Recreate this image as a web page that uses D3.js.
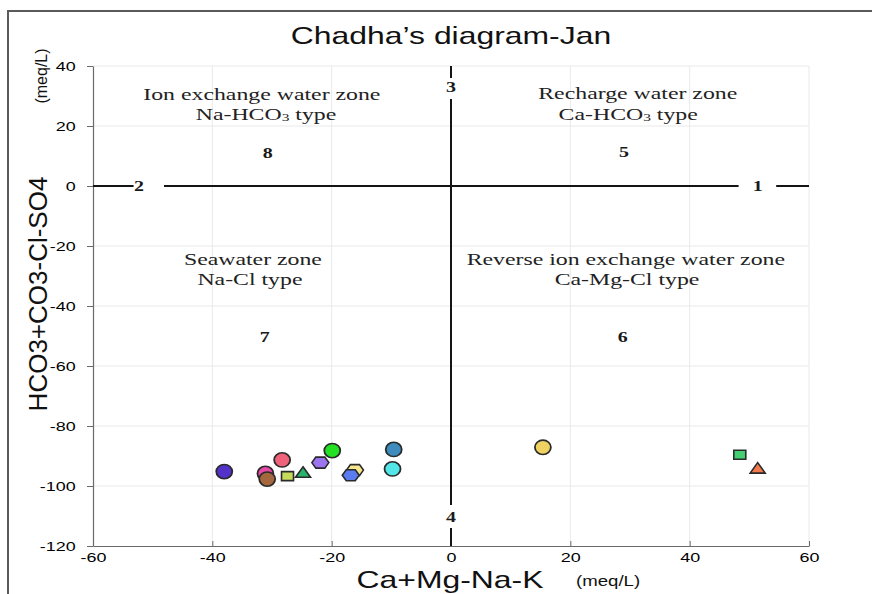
<!DOCTYPE html>
<html>
<head>
<meta charset="utf-8">
<script src="https://cdn.jsdelivr.net/npm/d3@7"></script>
<style>
body { margin:0; background:#fff; }
svg { display:block; }
</style>
</head>
<body>
<svg id="drawing_region"></svg>
<script>
// sample values (meq/L)
const xValues = [-38.0, -31.1, -30.8, -28.3, -27.4, -24.8, -21.9, -19.9, -16.1, -16.8, -9.6, -9.8, 15.4, 48.4, 51.4];
const yValues = [-95.2, -95.8, -97.7, -91.3, -96.7, -95.6, -92.2, -88.2, -94.7, -96.4, -87.8, -94.3, -87.1, -89.6, -94.2];
const shapes = ['circle','circle','circle','circle','square','triangle','hexagon','circle','hexagon','hexagon','circle','circle','circle','square','triangle'];
const colors = ['#5232c8','#e64aa6','#a5683e','#f0627a','#c6da5c','#26b36c','#9c74ee','#22e022','#f6e68e','#5a7cf0','#3d8cbd','#52e6e8','#f0d263','#44d072','#f27a4c'];

const xTicks = [-60, -40, -20, 0, 20, 40, 60];
const yTicks = [40, 20, 0, -20, -40, -60, -80, -100, -120];

const zoneTitles = ['Ion exchange water zone', 'Recharge water zone', 'Seawater zone', 'Reverse ion exchange water zone'];
const zoneTypes = [['Na-HCO', '3', ' type'], ['Ca-HCO', '3', ' type'], ['Na-Cl type'], ['Ca-Mg-Cl type']];
const fieldNumbers = ['1', '2', '3', '4', '5', '6', '7', '8'];

var config = {
    parent: '#drawing_region',
    width: 872,
    height: 594,
    margin: {top:66, right:63, bottom:48, left:93},
    stretch: 1.33
};

class ChadhaPlot {

    constructor( config ) {
        this.config = config;
        this.data = xValues.map( (x, i) => ({x: x, y: yValues[i], shape: shapes[i], color: colors[i]}) );
        this.init();
    }

    init() {
        let self = this;

        self.svg = d3.select( self.config.parent )
            .attr('width', self.config.width)
            .attr('height', self.config.height);

        self.inner_width = self.config.width - self.config.margin.left - self.config.margin.right;
        self.inner_height = self.config.height - self.config.margin.top - self.config.margin.bottom;

        self.chart = self.svg.append('g')
            .attr('transform', `translate(${self.config.margin.left}, ${self.config.margin.top})`);

        self.xscale = d3.scaleLinear()
            .domain( [-60, 60] )
            .range( [0, self.inner_width] );

        self.yscale = d3.scaleLinear()
            .domain( [-120, 40] )
            .range( [self.inner_height, 0] );
    }

    // text widened horizontally like the original bitmap
    label( parent, x, y, str, k ) {
        return parent.append('text')
            .attr('transform', `translate(${x}, ${y}) scale(${k}, 1)`)
            .text( str );
    }

    render() {
        let self = this;
        const k = self.config.stretch;
        const xs = self.xscale, ys = self.yscale;

        // outer frame
        self.svg.append('path')
            .attr('d', `M8,${self.config.height} V11 H${self.config.width}`)
            .attr('fill', 'none')
            .attr('stroke', '#5a5a5a')
            .attr('stroke-width', 2);

        // grid
        const grid = self.chart.append('g')
            .attr('stroke', '#e9e9e9')
            .attr('stroke-width', 1);
        grid.selectAll('.vg').data( xTicks.filter(d => d !== -60 && d !== 0) ).enter()
            .append('line')
            .attr('x1', d => xs(d)).attr('x2', d => xs(d))
            .attr('y1', 0).attr('y2', self.inner_height);
        grid.selectAll('.hg').data( yTicks.filter(d => d !== -120 && d !== 0) ).enter()
            .append('line')
            .attr('y1', d => ys(d)).attr('y2', d => ys(d))
            .attr('x1', 0).attr('x2', self.inner_width);

        // axes (plain hyphen for negatives, as in the original)
        const fmt = d => String(d);
        const xaxis = d3.axisBottom( xs )
            .tickValues( xTicks )
            .tickFormat( fmt )
            .tickSizeInner(-5)
            .tickSizeOuter(0)
            .tickPadding(6);
        const yaxis = d3.axisLeft( ys )
            .tickValues( yTicks )
            .tickFormat( fmt )
            .tickSizeInner(6)
            .tickSizeOuter(0)
            .tickPadding(7);

        const xg = self.chart.append('g')
            .attr('transform', `translate(0, ${self.inner_height})`)
            .call( xaxis );
        const yg = self.chart.append('g')
            .call( yaxis );

        [xg, yg].forEach( g => {
            g.select('.domain').attr('stroke', '#6a6a6a').attr('stroke-width', 1.2);
            g.selectAll('.tick line').attr('stroke', '#6a6a6a');
            g.selectAll('.tick text')
                .attr('font-family', 'Liberation Sans, Arial, sans-serif')
                .attr('font-size', 13.5)
                .attr('fill', '#000')
                .attr('transform', `scale(${k}, 1)`);
        });

        // zero lines with gaps for the field numbers
        const zl = self.chart.append('g')
            .attr('stroke', '#141414')
            .attr('stroke-width', 2);
        const hSeg = [[-60, -53.2], [-48.1, 48.2], [54.5, 60]];
        const vSeg = [[40, 36], [29, -106.3], [-114, -120]];
        zl.selectAll('.hs').data( hSeg ).enter()
            .append('line')
            .attr('x1', d => xs(d[0])).attr('x2', d => xs(d[1]))
            .attr('y1', ys(0)).attr('y2', ys(0));
        zl.selectAll('.vs').data( vSeg ).enter()
            .append('line')
            .attr('x1', xs(0)).attr('x2', xs(0))
            .attr('y1', d => ys(d[0])).attr('y2', d => ys(d[1]));

        // zone captions
        const zoneTitlePos = [[-31.7, 28.7], [31.3, 29], [-33.2, -26.3], [29.3, -26.3]];
        const zoneTypePos = [[-31.0, 22], [29.7, 22], [-33.7, -33], [29.5, -33]];
        const zones = self.chart.append('g')
            .attr('font-family', 'Liberation Serif, Times New Roman, serif')
            .attr('font-size', 17)
            .attr('fill', '#222')
            .attr('text-anchor', 'middle');
        zoneTitles.forEach( (t, i) => {
            self.label( zones, xs(zoneTitlePos[i][0]), ys(zoneTitlePos[i][1]), t, 1.4 );
            const tt = zones.append('text')
                .attr('transform', `translate(${xs(zoneTypePos[i][0])}, ${ys(zoneTypePos[i][1])}) scale(1.4, 1)`);
            zoneTypes[i].forEach( (part, j) => {
                const ts = tt.append('tspan').text( part );
                if( part === '3' ) ts.attr('font-size', 11).attr('dy', 1);
                else if( j > 0 ) ts.attr('dy', -1);
            });
        });

        // field numbers 1..8
        const numPos = [[51.4, 0], [-52.3, 0], [0, 33], [0, -110.3], [29, 11.3], [28.8, -50.3], [-31.2, -50.3], [-30.7, 11]];
        const nums = self.chart.append('g')
            .attr('font-family', 'Liberation Serif, Times New Roman, serif')
            .attr('font-weight', 'bold')
            .attr('font-size', 15)
            .attr('fill', '#1a1a1a')
            .attr('text-anchor', 'middle');
        fieldNumbers.forEach( (n, i) => {
            self.label( nums, xs(numPos[i][0]), ys(numPos[i][1]), n, k )
                .attr('dy', '0.35em');
        });

        // sample markers
        const shapePath = {
            circle: d3.symbol().type( d3.symbolCircle ).size( 160 )(),
            square: 'M-6,-4.5H6V4.5H-6Z',
            triangle: 'M0,-6L7.5,4.5L-7.5,4.5Z',
            hexagon: 'M-8.5,0L-4.5,-5.5L4.5,-5.5L8.5,0L4.5,5.5L-4.5,5.5Z'
        };
        self.chart.selectAll('.pt')
            .data( self.data )
            .enter()
            .append('path')
            .attr('class', 'pt')
            .attr('d', d => shapePath[d.shape])
            .attr('transform', d => `translate(${xs(d.x)}, ${ys(d.y)})` + (d.shape === 'circle' ? ' scale(1.12, 1)' : ''))
            .attr('fill', d => d.color)
            .attr('stroke', '#2a2a2a')
            .attr('stroke-width', 1.6);

        // title and axis titles
        self.label( self.svg, 451, 44, 'Chadha\u2019s diagram-Jan', k )
            .attr('text-anchor', 'middle')
            .attr('font-family', 'Liberation Sans, Arial, sans-serif')
            .attr('font-size', 24)
            .attr('fill', '#111');

        self.label( self.svg, 450, 588, 'Ca+Mg-Na-K', k )
            .attr('text-anchor', 'middle')
            .attr('font-family', 'Liberation Sans, Arial, sans-serif')
            .attr('font-size', 24)
            .attr('fill', '#111');
        self.label( self.svg, 576, 586, '(meq/L)', k )
            .attr('font-family', 'Liberation Sans, Arial, sans-serif')
            .attr('font-size', 14)
            .attr('fill', '#111');

        self.svg.append('text')
            .attr('transform', 'translate(47, 294) rotate(-90)')
            .attr('text-anchor', 'middle')
            .attr('font-family', 'Liberation Sans, Arial, sans-serif')
            .attr('font-size', 26)
            .attr('fill', '#111')
            .text('HCO3+CO3-Cl-SO4');
        self.svg.append('text')
            .attr('transform', 'translate(47, 76) rotate(-90)')
            .attr('text-anchor', 'middle')
            .attr('font-family', 'Liberation Sans, Arial, sans-serif')
            .attr('font-size', 16)
            .attr('fill', '#111')
            .text('(meq/L)');
    }
}

const plot = new ChadhaPlot( config );
plot.render();
</script>
</body>
</html>
